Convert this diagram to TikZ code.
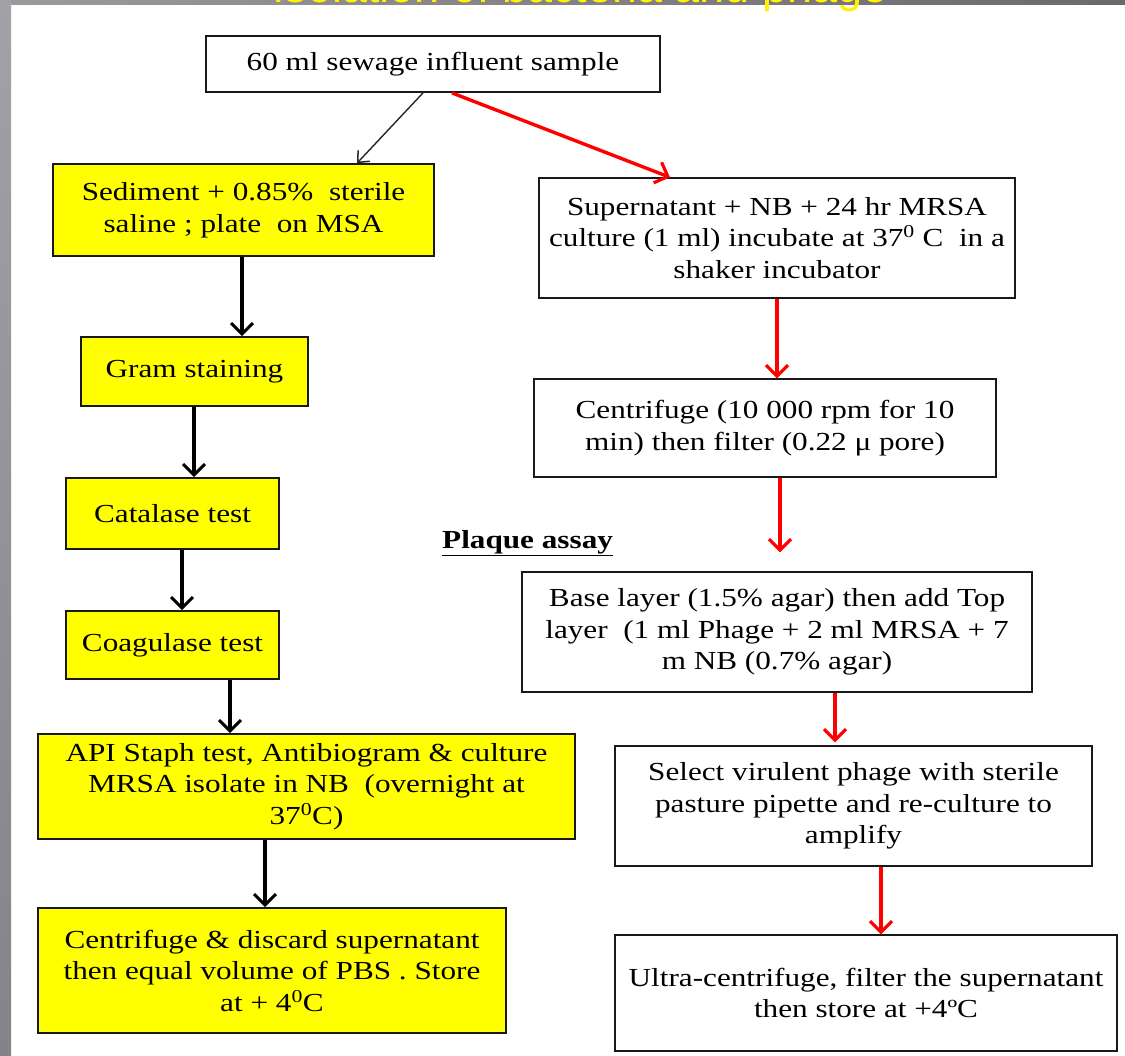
\documentclass[tikz,border=0pt]{standalone}
\usepackage{fontspec}
\setmainfont{Liberation Serif}[FakeStretch=1.2]
\newfontfamily\titlefont{Liberation Sans}
\usetikzlibrary{arrows.meta}
\definecolor{barL}{HTML}{9C999F}
\definecolor{barR}{HTML}{6B686E}
\definecolor{stripT}{HTML}{A3A1A8}
\definecolor{stripB}{HTML}{85828A}
\definecolor{boxyellow}{HTML}{FFFF00}
\tikzset{
  box/.style={draw=black!90, line width=1.3pt, align=center, inner sep=0pt,
    font=\fontsize{26}{31.5}\selectfont, text=black},
  ybox/.style={box, fill=boxyellow, line width=1.6pt},
  wbox/.style={box, fill=white},
  blk/.style={line width=3.2pt, black, -{Straight Barb[length=11pt,width=22pt,line width=3pt]}},
  thin/.style={line width=1.4pt, black!85, -{Straight Barb[length=9pt,width=16pt,line width=1.5pt]}},
  redarr/.style={line width=3.4pt, red, -{Straight Barb[length=11pt,width=22pt,line width=3.2pt]}},
}
\begin{document}
\begin{tikzpicture}[x=1pt,y=-1pt]
\useasboundingbox (0,0) rectangle (1125,1056);
\clip (0,0) rectangle (1125,1056);
\fill[white] (0,0) rectangle (1125,1056);
\shade[left color=barL, right color=barR] (0,0) rectangle (1125,5);
\shade[top color=stripT, bottom color=stripB] (0,0) rectangle (11,1056);
\node[anchor=base, text=yellow, font=\titlefont\fontsize{45}{45}\selectfont] (title) at (580,2.5) {Isolation of bacteria and phage};

% boxes
\node[wbox, line width=1.8pt, minimum width=454pt, minimum height=56pt] (A) at (433,64) {60 ml sewage influent sample};
\node[ybox, minimum width=381pt, minimum height=92pt] (B) at (243.5,210) {Sediment + 0.85\%\ \ sterile\\ saline ; plate\ \ on MSA};
\node[ybox, minimum width=227pt, minimum height=69pt] (C) at (194.5,371.5) {Gram staining};
\node[ybox, minimum width=213pt, minimum height=71pt] (D) at (172.5,513.5) {Catalase test};
\node[ybox, minimum width=213pt, minimum height=68pt] (E) at (172.5,645) {Coagulase test};
\node[ybox, minimum width=537pt, minimum height=105pt] (F) at (306.5,786.5) {API Staph test, Antibiogram \& culture\\ MRSA isolate in NB\ \ (overnight at\\ 37\textsuperscript{0}C)};
\node[ybox, minimum width=468pt, minimum height=125pt] (G) at (272,970.5) {Centrifuge \& discard supernatant\\ then equal volume of PBS . Store\\ at + 4\textsuperscript{0}C};
\node[wbox, minimum width=476pt, minimum height=120pt] (H) at (777,238) {Supernatant + NB + 24 hr MRSA\\ culture (1 ml) incubate at 37\textsuperscript{0} C\ \ in a\\ shaker incubator};
\node[wbox, minimum width=462pt, minimum height=98pt] (I) at (765,428) {Centrifuge (10 000 rpm for 10\\ min) then filter (0.22 μ pore)};
\node[wbox, minimum width=510pt, minimum height=120pt] (J) at (777,632) {Base layer (1.5\% agar) then add Top\\ layer\ \ (1 ml Phage + 2 ml MRSA + 7\\ m NB (0.7\% agar)};
\node[wbox, minimum width=477pt, minimum height=120pt] (K) at (853.5,806) {Select virulent phage with sterile\\ pasture pipette and re-culture to\\ amplify};
\node[wbox, minimum width=502pt, minimum height=116pt] (L) at (866,993) {Ultra-centrifuge, filter the supernatant\\ then store at +4ºC};

\node[anchor=base west, inner sep=0pt, font=\fontsize{26}{31.5}\selectfont\bfseries] (plaque) at (442,548) {\underline{Plaque assay}};

% connectors
\draw[thin] ([xshift=-10pt]A.south) -- ([xshift=113.5pt]B.north);
\draw[redarr] ([xshift=19pt]A.south) -- ([xshift=-107pt]H.north);
\draw[blk] ([xshift=-1.5pt]B.south) -- ([xshift=47.5pt]C.north);
\draw[blk] ([xshift=-0.5pt]C.south) -- ([xshift=21.5pt]D.north);
\draw[blk] ([xshift=9.5pt]D.south) -- ([xshift=9.5pt]E.north);
\draw[blk] ([xshift=57.5pt]E.south) -- ([xshift=-76.5pt]F.north);
\draw[blk] ([xshift=-41.5pt]F.south) -- ([xshift=-7pt]G.north);
\draw[redarr] (H.south) -- ([xshift=12pt]I.north);
\draw[redarr] ([xshift=15pt]I.south) -- ([xshift=3pt,yshift=19pt]J.north);
\draw[redarr] ([xshift=58pt]J.south) -- ([xshift=-18.5pt,yshift=3pt]K.north);
\draw[redarr] ([xshift=27.5pt]K.south) -- ([xshift=15pt]L.north);
\end{tikzpicture}
\end{document}
